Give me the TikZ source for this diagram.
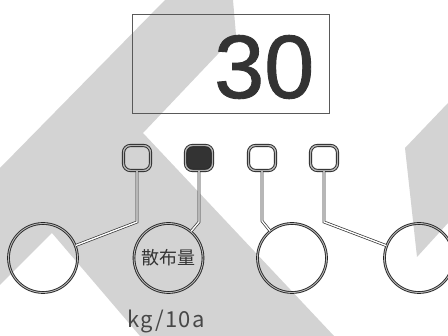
\documentclass[tikz,border=0pt]{standalone}
\usepackage{fontspec}
\newfontfamily\cjk{Noto Sans CJK JP}
\newfontfamily\cjkwide{Noto Sans CJK JP}[LetterSpace=6]
\newfontfamily\numfont{Liberation Sans}[FakeBold=1]
\definecolor{bg}{RGB}{211,211,211}
\definecolor{ink}{RGB}{51,51,51}
\begin{document}
\begin{tikzpicture}[x=1pt,y=-1pt,
  lamp/.style={rectangle, rounded corners=7pt, minimum width=27pt, minimum height=25pt,
    inner sep=0pt, draw=black!85, line width=0.9pt, double=gray!60, double distance=1.4pt},
  lampon/.style={lamp, fill=ink},
  ring/.style={circle, minimum size=69pt, inner sep=0pt, draw=black!85,
    line width=0.9pt, double=gray!55, double distance=0.9pt},
  stem/.style={draw=black!80, line width=0.7pt, double=white, double distance=1.4pt}]
\useasboundingbox (0,0) rectangle (448,336);
\fill[white] (0,0) rectangle (448,336);
% background watermark shapes
\fill[bg] (165,0) -- (233,0) -- (236,35) -- (143,133) -- (334,336) -- (140,336)
  -- (52,233) -- (0,285) -- (0,168) -- cycle;
\fill[bg] (405,148) -- (448,103) -- (448,223) -- (417,257) -- cycle;
% display
\node[draw=black!65, line width=0.9pt, minimum width=197pt, minimum height=99pt, inner sep=0pt]
  (box) at (230.5,64.2) {};
\node[anchor=base west, inner sep=0pt, text=ink, font=\numfont\fontsize{90}{90}\selectfont]
  (num) at (214,98) {30};
% lamps
\node[lamp] (s1) at (137,158) {};
\node[lampon] (s2) at (199,158) {};
\node[lamp] (s3) at (262,158) {};
\node[lamp] (s4) at (324,158) {};
% knobs
\node[ring] (c1) at (43,258) {};
\node[ring, text=ink, font=\cjk\fontsize{18}{18}\selectfont] (c2) at (168.5,258) {散布量};
\node[ring] (c3) at (292,258) {};
\node[ring] (c4) at (419,258) {};
% stems
\coordinate (k1) at (137,222);
\coordinate (k2) at (199,222);
\coordinate (k3) at (262,221);
\coordinate (k4) at (324,222);
\draw[stem] (s1.south) -- (k1) -- (c1);
\draw[stem] (s2.south) -- (k2) -- (c2);
\draw[stem] (s3.south) -- (k3) -- (c3);
\draw[stem] (s4.south) -- (k4) -- (c4);
% unit
\node[anchor=base west, inner sep=0pt, text=black!72, font=\cjkwide\fontsize{22}{22}\selectfont]
  (unit) at (127,328) {kg/10a};
\end{tikzpicture}
\end{document}
